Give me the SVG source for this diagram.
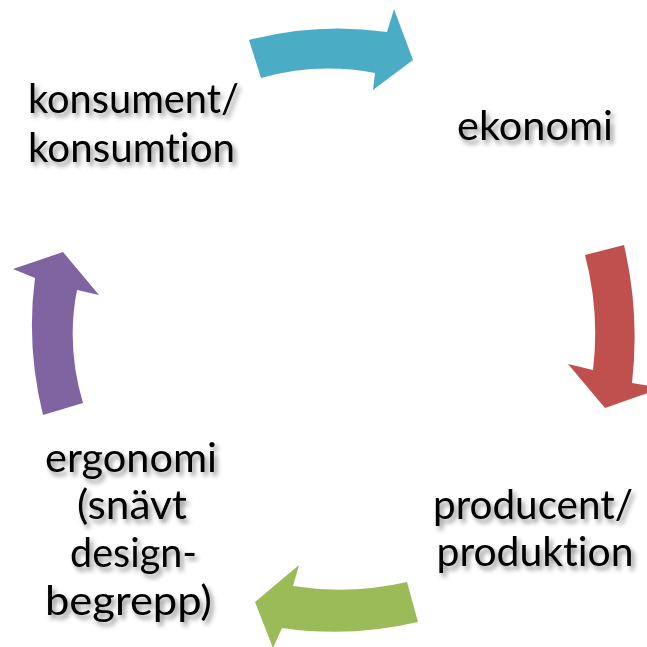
<svg xmlns="http://www.w3.org/2000/svg" width="647" height="647" viewBox="0 0 647 647">
<defs>
<filter id="sh" x="-20%" y="-40%" width="140%" height="180%">
<feGaussianBlur in="SourceAlpha" stdDeviation="2.8"/>
<feOffset dx="3" dy="4" result="b"/>
<feComponentTransfer><feFuncA type="linear" slope="0.45"/></feComponentTransfer>
<feMerge><feMergeNode/><feMergeNode in="SourceGraphic"/></feMerge>
</filter>
</defs>
<style>
text{font-family:Lato,"Open Sans",sans-serif;font-size:41px;fill:#000;text-anchor:middle;font-variant-ligatures:none;font-feature-settings:"liga" 0,"dlig" 0;}
.t{filter:url(#sh);}
</style>
<rect width="647" height="647" fill="#fff"/>
<g id="connectors">
<path id="c1" fill="#4BACC6" d="M249,40 Q318,22 387,32 L394,9 L413,60 L373,90 L375,73 Q318,62 261,78 Z"/>
<path id="c2" fill="#C0504D" d="M585,255 L624,245 Q640,314 632,383 L662,388 L605,408 L568,364 L593,370 Q600,312 585,255 Z"/>
<path id="c3" fill="#9BBB59" d="M407,582 Q350,595 293,586 L299,565 L255,602 L273,648 L282,628 Q350,638 418,622 Z"/>
<path id="c4" fill="#8064A2" d="M63,252 L99,295 L77,290 Q66,346 83,403 L43,415 Q26,346 35,278 L13,269 Z"/>
</g>
<g id="konsument" class="t">
<text x="133.5" y="113" textLength="211" lengthAdjust="spacingAndGlyphs">konsument/</text>
<text x="131.5" y="162" textLength="207" lengthAdjust="spacingAndGlyphs">konsumtion</text>
</g>
<g id="ekonomi" class="t">
<text x="535" y="140" textLength="156" lengthAdjust="spacingAndGlyphs">ekonomi</text>
</g>
<g id="producent" class="t">
<text x="533" y="519" textLength="200" lengthAdjust="spacingAndGlyphs">producent/</text>
<text x="535" y="566" textLength="197" lengthAdjust="spacingAndGlyphs">produktion</text>
</g>
<g id="ergonomi" class="t">
<text x="131" y="472" textLength="172" lengthAdjust="spacingAndGlyphs">ergonomi</text>
<text x="132" y="519" textLength="110" lengthAdjust="spacingAndGlyphs">(snävt</text>
<text x="133.5" y="567" textLength="127" lengthAdjust="spacingAndGlyphs">design-</text>
<text x="128.5" y="615" textLength="167" lengthAdjust="spacingAndGlyphs">begrepp)</text>
</g>
</svg>
